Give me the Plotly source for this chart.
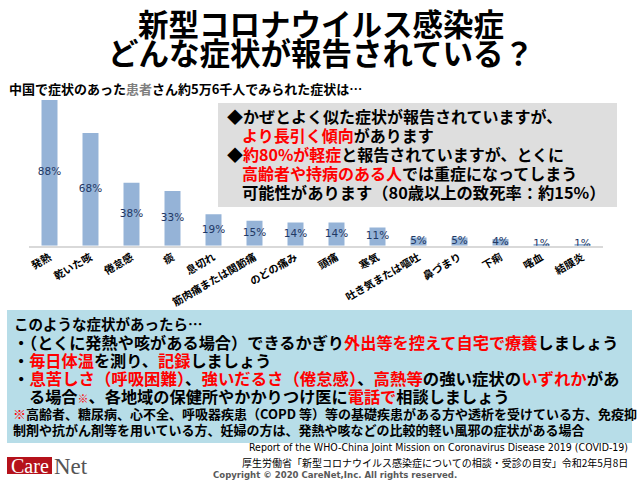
import plotly.graph_objects as go

categories = ["発熱", "乾いた咳", "倦怠感", "痰", "息切れ", "筋肉痛または関節痛", "のどの痛み",
              "頭痛", "寒気", "吐き気または嘔吐", "鼻づまり", "下痢", "喀血", "結膜炎"]
values = [88, 68, 38, 33, 19, 15, 14, 14, 11, 5, 5, 4, 1, 1]
value_labels = [f"{v}%" for v in values]

W, H = 640, 480
JP = "Noto Sans CJK JP"
RED = "#ff0000"


def px(x):
    return x / W


def py(y):
    return 1 - y / H


fig = go.Figure()
fig.add_trace(go.Bar(x=categories, y=values, width=0.39,
                     marker=dict(color="#95b3d7", line=dict(width=0)),
                     hoverinfo="skip"))
fig.add_trace(go.Scatter(x=categories, y=[v / 2 for v in values], mode="text",
                         text=value_labels,
                         textfont=dict(family="DejaVu Sans", size=10.5, color="#1f3864"),
                         hoverinfo="skip"))

shapes = [
    dict(type="rect", xref="paper", yref="paper", x0=px(218), x1=px(617), y0=py(207), y1=py(103),
         fillcolor="#dedede", line=dict(width=0), layer="below"),
    dict(type="rect", xref="paper", yref="paper", x0=px(7), x1=px(632), y0=py(443), y1=py(310),
         fillcolor="#b7dde8", line=dict(width=0), layer="below"),
    dict(type="rect", xref="paper", yref="paper", x0=px(7), x1=px(52), y0=py(474), y1=py(457),
         fillcolor="#b5121b", line=dict(width=0), layer="below"),
]

ann = []


def t(x, y, text, size, color="black", anchor="left", family=JP, weight="bold"):
    ann.append(dict(x=px(x), y=py(y), xref="paper", yref="paper", text=text, showarrow=False,
                    xanchor=anchor, yanchor="middle", align=anchor, borderpad=0,
                    font=dict(family=family, size=size, color=color, weight=weight)))


def r(s):
    return f"<span style='color:{RED}'>{s}</span>"


# Title
t(321, 22.5, "新型コロナウイルス感染症", 30.5, anchor="center")
t(321, 52, "どんな症状が報告されている？", 30.5, anchor="center")
t(8, 88, "中国で症状のあった<span style='color:#7f7f7f'>患者</span>さん約5万6千人でみられた症状は…", 13)

# Gray callout
t(226, 116, "◆かぜとよく似た症状が報告されていますが、", 16)
t(241, 135, r("より長引く傾向") + "があります", 16)
t(226, 154, "◆" + r("約80%が軽症") + "と報告されていますが、とくに", 16)
t(241, 173, r("高齢者や持病のある人") + "では重症になってしまう", 16)
t(241, 192, "可能性があります（80歳以上の致死率：約15%）", 16.3)

# Blue box
t(13, 323, "このような症状があったら…", 14.5)
t(12, 342, "・（とくに発熱や咳がある場合）できるかぎり" + r("外出等を控えて自宅で療養") + "しましょう", 16.2)
t(12, 360, "・" + r("毎日体温") + "を測り、" + r("記録") + "しましょう", 16.2)
t(12, 378, "・" + r("息苦しさ（呼吸困難）") + "、" + r("強いだるさ（倦怠感）") + "、" + r("高熱等") + "の強い症状の" + r("いずれか") + "があ", 16.4)
t(28, 396, "る場合" + "<span style='color:#ff0000;font-size:11px'>※</span>" + "、各地域の保健所やかかりつけ医に" + r("電話で") + "相談しましょう", 16.2)
t(12, 413, r("※") + "高齢者、糖尿病、心不全、呼吸器疾患（COPD 等）等の基礎疾患がある方や透析を受けている方、免疫抑", 13)
t(12, 429, "制剤や抗がん剤等を用いている方、妊婦の方は、発熱や咳などの比較的軽い風邪の症状がある場合", 13)

# Footer
t(629, 447, "Report of the WHO-China Joint Mission on Coronavirus Disease 2019 (COVID-19)", 10.5,
  anchor="right", family="DejaVu Sans Condensed, DejaVu Sans", weight="normal")
t(629, 462, "厚生労働省「新型コロナウイルス感染症についての相談・受診の目安」令和2年5月8日", 10,
  anchor="right", weight="normal")
t(212, 474, "Copyright © 2020 CareNet,Inc. All rights reserved.", 9.5, color="#595959",
  family="DejaVu Sans Condensed, DejaVu Sans")

# Logo
t(29.5, 466, "Care", 20, color="white", anchor="center", family="Liberation Serif", weight="normal")
t(53, 466, "Net", 23, color="#555555", family="Liberation Serif", weight="normal")

fig.update_layout(
    width=W, height=H,
    margin=dict(l=0, r=0, t=0, b=0),
    paper_bgcolor="white", plot_bgcolor="white",
    showlegend=False,
    shapes=shapes, annotations=ann,
    xaxis=dict(domain=[px(29), px(603)], range=[-0.5, 13.5], showgrid=False,
               showline=True, linecolor="#d9d9d9", linewidth=1.5, ticks="",
               tickangle=-30, tickfont=dict(family=JP, size=10.5, color="black", weight="bold"),
               fixedrange=True),
    yaxis=dict(domain=[py(245.7), py(100)], range=[0, 88], visible=False, fixedrange=True),
)

fig.write_html("out.html")
